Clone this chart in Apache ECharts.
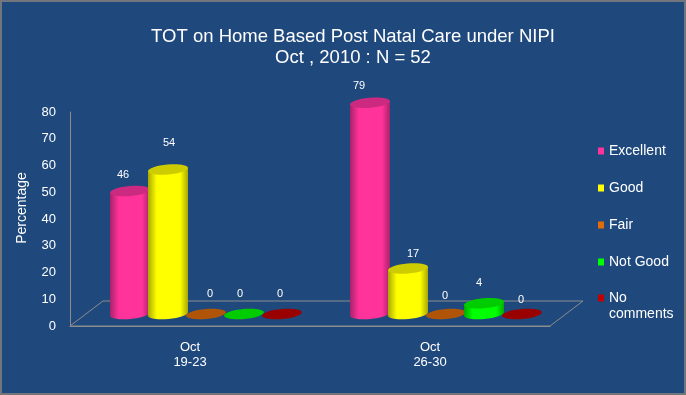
<!DOCTYPE html>
<html>
<head>
<meta charset="utf-8">
<style>
  html, body { margin: 0; padding: 0; background: #1f497d; }
  #chart { width: 686px; height: 395px; }
</style>
<script src="https://cdn.jsdelivr.net/npm/echarts@6/dist/echarts.min.js"></script>
</head>
<body>
<div id="chart"></div>
<script>
const categories = ['Oct\n19-23', 'Oct\n26-30'];
const excellent = [46, 79];
const good = [54, 17];
const fair = [0, 0];
const notGood = [0, 4];
const noComments = [0, 0];
const yTicks = [0, 10, 20, 30, 40, 50, 60, 70, 80];

const seriesNames = ['Excellent', 'Good', 'Fair', 'Not Good', 'No\ncomments'];
const seriesValues = [excellent, good, fair, notGood, noComments];
const sideColors = ['#ff3399', '#ffff00', '#e36c09', '#00ff00', '#c00000'];
const edgeColors = ['#a8226a', '#a8a800', '#96480a', '#00a800', '#800000'];
const topColors = ['#cc2a80', '#cccc00', '#b05508', '#00cc00', '#990000'];

// hand placed data labels in the original, nudges relative to the cylinder top
const labelNudge = [
  [[-7, -16], [-11, -17]],
  [[1, -27], [5, -15]],
  [[4, -20], [-1, -18]],
  [[-4, -20], [-5, -20]],
  [[-2, -20], [-1, -14]]
];

const LIFT = 12;      // cylinders stand on the floor, above the front edge
const DEPTH_X = 33;
const DEPTH_Y = 25;
const RX = 20;
const RY = 5;
const TILT = 5 * Math.PI / 180;

function renderCylinder(idx) {
  return function (params, api) {
    const cat = api.value(0);
    const val = api.value(1);
    const band = api.size([1, 0])[0];
    const base = api.coord([cat, 0]);
    const top = api.coord([cat, val]);
    const cx = base[0] + band * (((idx - 2) * 38 + 16) / 240);
    const yb = base[1] - LIFT;
    const yt = top[1] - LIFT;
    const t = RX * Math.sin(TILT);
    const deg = 5;
    const children = [];
    if (val > 0) {
      children.push({
        type: 'path',
        shape: {
          pathData: 'M' + (cx - RX) + ' ' + (yt + t) +
            ' L' + (cx - RX) + ' ' + (yb + t) +
            ' A' + RX + ' ' + RY + ' -' + deg + ' 0 0 ' + (cx + RX) + ' ' + (yb - t) +
            ' L' + (cx + RX) + ' ' + (yt - t) + ' Z'
        },
        style: {
          fill: {
            type: 'linear', x: 0, y: 0, x2: 1, y2: 0,
            colorStops: [
              { offset: 0, color: edgeColors[idx] },
              { offset: 0.22, color: sideColors[idx] },
              { offset: 0.8, color: sideColors[idx] },
              { offset: 1, color: edgeColors[idx] }
            ]
          }
        }
      });
    }
    children.push({
      type: 'ellipse',
      originX: cx,
      originY: yt,
      rotation: TILT,
      shape: { cx: cx, cy: yt, rx: RX, ry: RY },
      style: { fill: topColors[idx] }
    });
    const nudge = labelNudge[idx][cat];
    children.push({
      type: 'text',
      x: cx + nudge[0],
      y: yt + nudge[1],
      style: {
        text: String(val),
        fill: '#ffffff',
        font: '11px "Liberation Sans", Arial, sans-serif',
        align: 'center',
        verticalAlign: 'middle'
      }
    });
    return { type: 'group', children: children };
  };
}

function renderFloor(params) {
  const c = params.coordSys;
  const x0 = c.x;
  const x1 = c.x + c.width;
  const y = c.y + c.height;
  return {
    type: 'polygon',
    shape: {
      points: [[x0, y], [x0 + DEPTH_X, y - DEPTH_Y], [x1 + DEPTH_X, y - DEPTH_Y], [x1, y]]
    },
    style: { fill: 'none', stroke: '#8c8c8c', lineWidth: 1 }
  };
}

const series = [{
  name: 'floor',
  type: 'custom',
  z: 1,
  silent: true,
  clip: false,
  renderItem: renderFloor,
  data: [[0, 0]]
}];
seriesNames.forEach(function (name, i) {
  series.push({
    name: name,
    type: 'custom',
    z: 2 + i,
    clip: false,
    renderItem: renderCylinder(i),
    itemStyle: { color: sideColors[i] },
    data: seriesValues[i].map(function (v, c) { return [c, v]; })
  });
});

const legendBase = {
  orient: 'vertical',
  left: 598,
  padding: 0,
  itemWidth: 6,
  itemHeight: 7,
  icon: 'rect',
  selectedMode: false,
  textStyle: { color: '#ffffff', fontSize: 14, lineHeight: 16 }
};

const chart = echarts.init(document.getElementById('chart'));
chart.setOption({
  backgroundColor: '#1f497d',
  animation: false,
  textStyle: { fontFamily: '"Liberation Sans", Arial, sans-serif' },
  title: {
    text: 'TOT on Home Based Post Natal Care under NIPI\nOct , 2010 : N = 52',
    left: 348,
    top: 21,
    textAlign: 'center',
    textStyle: { color: '#ffffff', fontSize: 18.5, fontWeight: 'normal', lineHeight: 21 }
  },
  graphic: [{
    type: 'rect',
    silent: true,
    shape: { x: 1, y: 1, width: 684, height: 393 },
    style: { fill: 'none', stroke: '#72767c', lineWidth: 2 }
  }],
  grid: { left: 70, right: 136, top: 112, bottom: 69, outerBoundsMode: 'none' },
  legend: [
    Object.assign({}, legendBase, {
      top: 143,
      itemGap: 21,
      data: seriesNames.slice(0, 4)
    }),
    // two line entry, blank first line keeps the marker level with "No"
    Object.assign({}, legendBase, {
      top: 274,
      data: [seriesNames[4]],
      formatter: function (name) { return '\n' + name; }
    })
  ],
  xAxis: {
    type: 'category',
    data: categories,
    axisLine: { lineStyle: { color: '#8c8c8c', width: 1 } },
    axisTick: { show: false },
    axisLabel: { color: '#ffffff', fontSize: 13, lineHeight: 15, margin: 14 }
  },
  yAxis: {
    type: 'value',
    min: yTicks[0],
    max: yTicks[yTicks.length - 1],
    interval: 10,
    name: 'Percentage',
    nameLocation: 'middle',
    nameGap: 41,
    nameTextStyle: { color: '#ffffff', fontSize: 14, padding: [0, 0, 0, 22] },
    axisLine: { show: true, lineStyle: { color: '#8c8c8c', width: 1 } },
    axisTick: { show: false },
    splitLine: { show: false },
    axisLabel: { color: '#ffffff', fontSize: 13, margin: 14 }
  },
  series: series
});
</script>
</body>
</html>
